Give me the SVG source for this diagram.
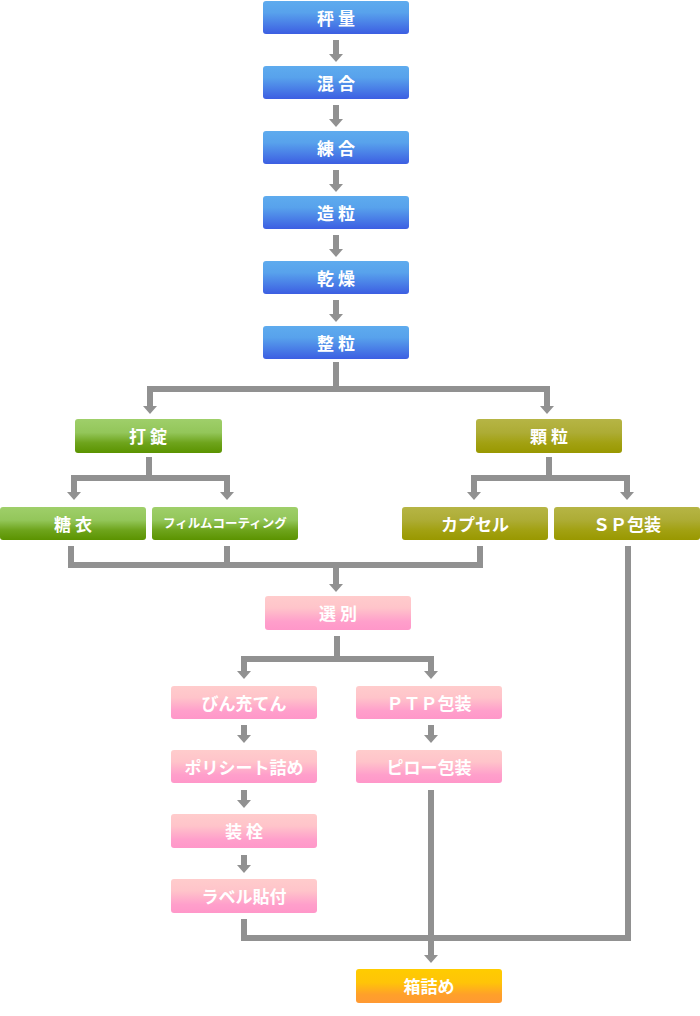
<svg xmlns="http://www.w3.org/2000/svg" width="700" height="1016" viewBox="0 0 700 1016">
<defs>
<linearGradient id="gBlue" x1="0" y1="0" x2="0" y2="1"><stop offset="0" stop-color="#5eabee"/><stop offset="0.35" stop-color="#58a2ec"/><stop offset="1" stop-color="#3c5ee2"/></linearGradient>
<linearGradient id="gGreen" x1="0" y1="0" x2="0" y2="1"><stop offset="0" stop-color="#9fcf6a"/><stop offset="0.4" stop-color="#93c65a"/><stop offset="0.7" stop-color="#6ea41c"/><stop offset="1" stop-color="#5b9300"/></linearGradient>
<linearGradient id="gOlive" x1="0" y1="0" x2="0" y2="1"><stop offset="0" stop-color="#b6b545"/><stop offset="0.4" stop-color="#adac35"/><stop offset="0.7" stop-color="#a2a112"/><stop offset="1" stop-color="#999800"/></linearGradient>
<linearGradient id="gPink" x1="0" y1="0" x2="0" y2="1"><stop offset="0" stop-color="#ffcccc"/><stop offset="0.35" stop-color="#ffc4ca"/><stop offset="0.75" stop-color="#ff9fcb"/><stop offset="1" stop-color="#ff97c9"/></linearGradient>
<linearGradient id="gOrange" x1="0" y1="0" x2="0" y2="1"><stop offset="0" stop-color="#ffcc00"/><stop offset="0.4" stop-color="#ffc408"/><stop offset="0.75" stop-color="#ffa02a"/><stop offset="1" stop-color="#ff9933"/></linearGradient>
<marker id="ah" viewBox="0 -7 8 14" markerWidth="8" markerHeight="14" refX="0" refY="0" orient="auto" markerUnits="userSpaceOnUse"><path d="M0,-7 L8,0 L0,7 Z" fill="#919191"/></marker>
</defs>
<style>
.box{rx:3;ry:3}
.blue{fill:url(#gBlue)}
.green{fill:url(#gGreen)}
.olive{fill:url(#gOlive)}
.pink{fill:url(#gPink)}
.orange{fill:url(#gOrange)}
.t{font-family:"Noto Sans CJK JP","Liberation Sans",sans-serif;font-size:17px;font-weight:bold;fill:#ffffff;text-anchor:middle}
.ts{font-size:12.5px}
.c{fill:none;stroke:#919191;stroke-width:6;stroke-linejoin:miter}
.a{marker-end:url(#ah)}
</style>
<g id="connectors">
<path class="c a" d="M336,40 V54"/>
<path class="c a" d="M336,105 V119"/>
<path class="c a" d="M336,170 V184"/>
<path class="c a" d="M336,235 V249"/>
<path class="c a" d="M336,300 V314"/>
<path class="c" d="M336,362 V389"/>
<path class="c a" d="M336,389 H150 V406"/>
<path class="c a" d="M336,389 H547 V406"/>
<path class="c" d="M149,457 V478"/>
<path class="c a" d="M149,478 H74 V492"/>
<path class="c a" d="M149,478 H227 V492"/>
<path class="c" d="M549,457 V478"/>
<path class="c a" d="M549,478 H474 V492"/>
<path class="c a" d="M549,478 H627 V492"/>
<path class="c" d="M71,546 V565 H480 V546"/>
<path class="c" d="M227,546 V565"/>
<path class="c a" d="M336,565 V584"/>
<path class="c" d="M337,636 V659"/>
<path class="c a" d="M337,659 H244 V671"/>
<path class="c a" d="M337,659 H431 V671"/>
<path class="c a" d="M244,725 V735"/>
<path class="c a" d="M431,725 V735"/>
<path class="c a" d="M244,790 V800"/>
<path class="c a" d="M244,855 V865"/>
<path class="c a" d="M431,790 V955"/>
<path class="c" d="M244,919 V938 H628 V546"/>
</g>
<g id="n1"><rect class="box blue" x="263" y="1" width="146" height="33"/><text class="t" x="336" y="25">秤 量</text></g>
<g id="n2"><rect class="box blue" x="263" y="66" width="146" height="33"/><text class="t" x="336" y="90">混 合</text></g>
<g id="n3"><rect class="box blue" x="263" y="131" width="146" height="33"/><text class="t" x="336" y="155">練 合</text></g>
<g id="n4"><rect class="box blue" x="263" y="196" width="146" height="33"/><text class="t" x="336" y="220">造 粒</text></g>
<g id="n5"><rect class="box blue" x="263" y="261" width="146" height="33"/><text class="t" x="336" y="285">乾 燥</text></g>
<g id="n6"><rect class="box blue" x="263" y="326" width="146" height="33"/><text class="t" x="336" y="350">整 粒</text></g>
<g id="n7"><rect class="box green" x="75" y="419" width="147" height="34"/><text class="t" x="148" y="443">打 錠</text></g>
<g id="n8"><rect class="box olive" x="476" y="419" width="146" height="34"/><text class="t" x="549" y="443">顆 粒</text></g>
<g id="n9"><rect class="box green" x="0" y="507" width="146" height="33"/><text class="t" x="73" y="531">糖 衣</text></g>
<g id="n10"><rect class="box green" x="152" y="507" width="146" height="33"/><text class="t ts" x="225" y="528">フィルムコーティング</text></g>
<g id="n11"><rect class="box olive" x="402" y="507" width="146" height="33"/><text class="t" x="475" y="531">カプセル</text></g>
<g id="n12"><rect class="box olive" x="554" y="507" width="146" height="33"/><text class="t" x="627" y="531">ＳＰ包装</text></g>
<g id="n13"><rect class="box pink" x="265" y="596" width="146" height="34"/><text class="t" x="338" y="620">選 別</text></g>
<g id="n14"><rect class="box pink" x="171" y="686" width="146" height="33"/><text class="t" x="244" y="710">びん充てん</text></g>
<g id="n15"><rect class="box pink" x="356" y="686" width="146" height="33"/><text class="t" x="429" y="710">ＰＴＰ包装</text></g>
<g id="n16"><rect class="box pink" x="171" y="750" width="146" height="33"/><text class="t" x="244" y="774">ポリシート詰め</text></g>
<g id="n17"><rect class="box pink" x="356" y="750" width="146" height="33"/><text class="t" x="429" y="774">ピロー包装</text></g>
<g id="n18"><rect class="box pink" x="171" y="814" width="146" height="34"/><text class="t" x="244" y="838">装 栓</text></g>
<g id="n19"><rect class="box pink" x="171" y="879" width="146" height="34"/><text class="t" x="244" y="903">ラベル貼付</text></g>
<g id="n20"><rect class="box orange" x="356" y="969" width="146" height="34"/><text class="t" x="429" y="993">箱詰め</text></g>
</svg>
